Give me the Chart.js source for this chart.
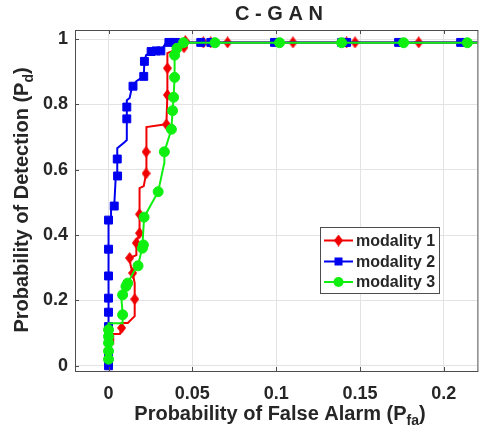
<!DOCTYPE html>
<html>
<head>
<meta charset="utf-8">
<script src="https://cdn.jsdelivr.net/npm/chart.js@4.4.1/dist/chart.umd.min.js"></script>
<style>
  html, body { margin: 0; padding: 0; background: #fff; overflow: hidden; }
  canvas { display: block; }
</style>
</head>
<body>
<canvas id="roc" width="484" height="433"></canvas>
<script>
const seriesNames = ['modality 1', 'modality 2', 'modality 3'];
const xTicks = [0, 0.05, 0.1, 0.15, 0.2];
const xTickLabels = ['0', '0.05', '0.1', '0.15', '0.2'];
const yTicks = [0, 0.2, 0.4, 0.6, 0.8, 1];
const yTickLabels = ['0', '0.2', '0.4', '0.6', '0.8', '1'];

// modality 1 (red) - roc curve vertices, then the marked points
const m1Curve = [[0,0],[0,0.068],[0.0028,0.068],[0.0028,0.097],[0.0068,0.097],[0.0078,0.116],[0.0078,0.131],
  [0.0115,0.131],[0.0156,0.152],[0.0156,0.204],[0.0156,0.253],[0.0144,0.284],[0.0132,0.306],[0.0126,0.33],
  [0.0166,0.339],[0.0166,0.376],[0.0185,0.406],[0.0185,0.464],[0.0185,0.544],[0.021,0.55],[0.0224,0.589],
  [0.0224,0.655],[0.0228,0.731],[0.0332,0.739],[0.0345,0.739],[0.0351,0.829],[0.0351,0.911],[0.0351,0.957],
  [0.0396,0.966],[0.042,0.975],[0.045,0.994],[0.047,0.99],[0.22,0.99]];
const m1Marks = [[0.0078,0.116],[0.0156,0.204],[0.0144,0.284],[0.0126,0.33],[0.0166,0.376],[0.0185,0.406],
  [0.0185,0.464],[0.0224,0.589],[0.0224,0.655],[0.0345,0.739],[0.0351,0.829],[0.0351,0.911],[0.045,0.975],
  [0.0458,0.994],[0.0565,0.99],[0.061,0.99],[0.071,0.99],[0.11,0.99],[0.142,0.99],[0.147,0.99],[0.185,0.99]];

// modality 2 (blue)
const m2Curve = [[0,0],[0,0.446],[0.0015,0.458],[0.0015,0.482],[0.0034,0.489],[0.0042,0.569],[0.0054,0.581],
  [0.0052,0.666],[0.0097,0.685],[0.0109,0.691],[0.0109,0.813],[0.0126,0.82],[0.0136,0.844],[0.0146,0.856],
  [0.0166,0.871],[0.021,0.886],[0.0214,0.932],[0.0224,0.951],[0.0244,0.957],[0.0312,0.964],[0.0342,0.988],
  [0.045,0.99],[0.22,0.99]];
const m2Marks = [[0,0],[0,0.04],[0,0.12],[0,0.164],[0,0.207],[0,0.275],[0,0.357],[0,0.446],[0.0034,0.489],
  [0.0054,0.581],[0.0052,0.633],[0.0109,0.756],[0.0109,0.792],[0.0146,0.856],[0.021,0.886],[0.0214,0.932],
  [0.0254,0.962],[0.0283,0.964],[0.0312,0.964],[0.036,0.99],[0.04,0.99],[0.055,0.99],[0.061,0.99],
  [0.099,0.99],[0.139,0.99],[0.142,0.99],[0.173,0.99],[0.21,0.99]];

// modality 3 (green)
const m3Curve = [[0,0.02],[0,0.13],[0.0084,0.13],[0.0084,0.16],[0.0075,0.217],[0.0104,0.243],[0.0114,0.253],
  [0.0163,0.3],[0.0176,0.306],[0.0202,0.365],[0.0212,0.455],[0.0296,0.533],[0.0332,0.62],[0.0333,0.655],
  [0.0375,0.724],[0.0382,0.781],[0.0388,0.822],[0.0394,0.883],[0.0394,0.951],[0.0408,0.972],[0.0447,0.989],
  [0.22,0.989]];
const m3Marks = [[0,0.02],[0,0.045],[0,0.07],[0,0.09],[0,0.11],[0.0084,0.156],[0.0084,0.217],[0.0104,0.243],
  [0.0114,0.253],[0.0176,0.306],[0.0202,0.36],[0.0208,0.37],[0.0212,0.455],[0.0296,0.533],[0.0333,0.655],
  [0.0375,0.724],[0.0382,0.781],[0.0388,0.822],[0.0394,0.883],[0.0394,0.951],[0.0408,0.972],[0.0447,0.989],
  [0.0635,0.989],[0.102,0.989],[0.139,0.989],[0.176,0.989],[0.214,0.989]];

const colors = ['#f00000', '#0000f0', '#10f010'];
const FONT = '"Liberation Sans", Arial, sans-serif';
const TEXT = '#262626';

const toXY = arr => arr.map(p => ({ x: p[0], y: p[1] }));

// matlab style diamond is a bit taller than wide
function diamond(color) {
  const c = document.createElement('canvas');
  c.width = 9; c.height = 12;
  const g = c.getContext('2d');
  g.fillStyle = color;
  g.beginPath();
  g.moveTo(4.5, 0); g.lineTo(9, 6); g.lineTo(4.5, 12); g.lineTo(0, 6);
  g.closePath();
  g.fill();
  return c;
}
const redDiamond = diamond(colors[0]);

function curveSet(data, color, order) {
  return { data: toXY(data), borderColor: color, borderWidth: 2, pointRadius: 0,
    tension: 0, fill: false, order: order };
}
function markSet(data, color, style, radius, order) {
  return { data: toXY(data), showLine: false, pointStyle: style, pointRadius: radius,
    pointBackgroundColor: color, pointBorderColor: color, pointBorderWidth: 1, order: order };
}

function drawMarker(ctx, i, x, y) {
  ctx.fillStyle = colors[i];
  if (i === 0) {
    ctx.drawImage(redDiamond, x - 4.5, y - 6);
  } else if (i === 1) {
    ctx.fillRect(x - 4, y - 4, 8, 8);
  } else {
    ctx.beginPath(); ctx.arc(x, y, 5, 0, Math.PI * 2); ctx.fill();
  }
}

function subText(ctx, parts, cx, base) {
  // parts: [text, size, dy]
  let total = 0;
  parts.forEach(p => { ctx.font = 'bold ' + p[1] + 'px ' + FONT; total += ctx.measureText(p[0]).width; });
  let x = cx - total / 2;
  parts.forEach(p => {
    ctx.font = 'bold ' + p[1] + 'px ' + FONT;
    ctx.fillText(p[0], x, base + p[2]);
    x += ctx.measureText(p[0]).width;
  });
}

const frame = {
  id: 'frame',
  afterDatasetsDraw(chart) {
    const { ctx, chartArea: a, scales: { x, y } } = chart;
    ctx.save();
    ctx.strokeStyle = '#4d4d4d';
    ctx.lineWidth = 1;
    ctx.strokeRect(a.left + 0.5, a.top + 0.5, a.right - a.left, a.bottom - a.top);
    // inward tick marks
    ctx.beginPath();
    xTicks.forEach(v => {
      const px = Math.round(x.getPixelForValue(v)) + 0.5;
      ctx.moveTo(px, a.bottom); ctx.lineTo(px, a.bottom - 4);
      ctx.moveTo(px, a.top); ctx.lineTo(px, a.top + 4);
    });
    yTicks.forEach(v => {
      const py = Math.round(y.getPixelForValue(v)) + 0.5;
      ctx.moveTo(a.left, py); ctx.lineTo(a.left + 4, py);
    });
    ctx.stroke();

    ctx.fillStyle = TEXT;
    ctx.textAlign = 'left';
    ctx.textBaseline = 'alphabetic';
    // title
    subText(ctx, [['C - G A N', 20, 0]], 279, 20);
    // x axis title
    subText(ctx, [['Probability of False Alarm (P', 20, 0], ['fa', 14, 5], [')', 20, 0]], 280, 420);
    // y axis title
    ctx.save();
    ctx.translate(28, 200);
    ctx.rotate(-Math.PI / 2);
    subText(ctx, [['Probability of Detection (P', 20, 0], ['d', 14, 5], [')', 20, 0]], 0, 0);
    ctx.restore();

    // legend
    const lx = 320, ly = 227, lw = 119, lh = 66;
    ctx.fillStyle = '#fff';
    ctx.fillRect(lx, ly, lw, lh);
    ctx.strokeStyle = '#4d4d4d';
    ctx.strokeRect(lx + 0.5, ly + 0.5, lw, lh);
    const rows = [240.5, 261.5, 282];
    seriesNames.forEach((name, i) => {
      const ry = rows[i];
      ctx.strokeStyle = colors[i];
      ctx.lineWidth = 2;
      ctx.beginPath(); ctx.moveTo(324, ry); ctx.lineTo(353, ry); ctx.stroke();
      drawMarker(ctx, i, 338.5, ry);
      ctx.fillStyle = TEXT;
      ctx.font = 'bold 16px ' + FONT;
      ctx.textBaseline = 'middle';
      ctx.fillText(name, 356, ry + 1);
    });
    ctx.restore();
  }
};

const ctx = document.getElementById('roc').getContext('2d');
const rocChart = new Chart(ctx, {
  type: 'line',
  data: {
    datasets: [
      curveSet(m1Curve, colors[0], 6),
      markSet(m1Marks, colors[0], redDiamond, 5, 5),
      curveSet(m2Curve, colors[1], 4),
      markSet(m2Marks, colors[1], 'rect', 5.6, 3),
      curveSet(m3Curve, colors[2], 2),
      markSet(m3Marks, colors[2], 'circle', 5, 1)
    ]
  },
  options: {
    responsive: false,
    animation: false,
    devicePixelRatio: 1,
    layout: { padding: { top: 30, left: 0, right: 0, bottom: 0 } },
    plugins: {
      legend: { display: false },
      title: { display: false },
      tooltip: { enabled: false }
    },
    scales: {
      x: {
        type: 'linear',
        min: -0.02,
        max: 0.22,
        afterBuildTicks: s => { s.ticks = xTicks.map(v => ({ value: v })); },
        afterFit: s => { s.height = 62; },
        border: { display: false },
        grid: { color: '#e3e3e3', drawTicks: false },
        ticks: {
          padding: 12,
          color: TEXT,
          font: { family: FONT, size: 18, weight: 'bold' },
          callback: v => xTickLabels[xTicks.indexOf(v)]
        }
      },
      y: {
        type: 'linear',
        min: -0.016,
        max: 1.028,
        afterBuildTicks: s => { s.ticks = yTicks.map(v => ({ value: v })); },
        afterFit: s => { s.width = 75; },
        border: { display: false },
        grid: { color: '#e3e3e3', drawTicks: false },
        ticks: {
          padding: 7,
          color: TEXT,
          font: { family: FONT, size: 18, weight: 'bold' },
          callback: v => yTickLabels[yTicks.indexOf(v)]
        }
      }
    }
  },
  plugins: [frame]
});
</script>
</body>
</html>
